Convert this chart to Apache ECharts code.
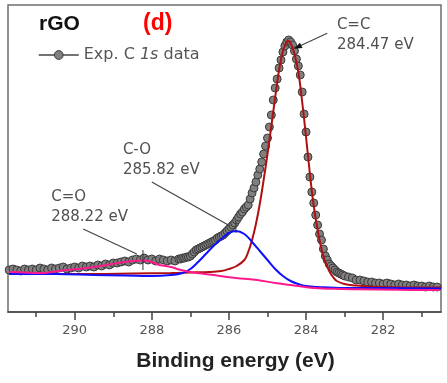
<!DOCTYPE html>
<html><head><meta charset="utf-8">
<script src="https://cdn.jsdelivr.net/npm/echarts@6/dist/echarts.min.js"></script>
<style>html,body{margin:0;padding:0;background:#fff}#c{width:447px;height:383px}</style>
</head><body><div id="c"></div>
<script>
// ---- data (binding energy eV, intensity a.u.) ----
const majorTicks = [282, 284, 286, 288, 290];
const minorTicks = [281, 283, 285, 287, 289, 291];

const expData = [
[291.7,42],[291.6,43],[291.5,42],[291.4,41],[291.3,43],[291.2,42],[291.1,43],[291.0,42],[290.9,44],[290.8,43],
[290.7,42],[290.6,44],[290.5,43],[290.4,44],[290.3,45],[290.2,43],[290.1,44],[290.0,45],[289.9,44],[289.8,46],
[289.7,45],[289.6,46],[289.5,45],[289.4,47],[289.3,46],[289.2,48],[289.1,47],[289.0,49],[288.9,49],[288.8,50],
[288.7,51],[288.6,50],[288.5,52],[288.4,53],[288.3,52],[288.2,54],[288.1,52],[288.0,53],[287.9,51],[287.8,53],
[287.7,52],[287.6,51],[287.5,52],[287.4,51],[287.3,53],
[287.25,53],[287.20,54],[287.15,54],[287.10,55],[287.05,55],[287.00,56],[286.95,58],[286.90,60],[286.85,62],[286.80,63],
[286.75,64],[286.70,65],[286.65,66],[286.60,67],[286.55,68],[286.50,69],[286.45,70],[286.40,71],[286.35,72],[286.30,74],
[286.25,75],[286.20,76],[286.15,77],[286.10,79],[286.05,81],[286.00,83],[285.95,85],[285.90,87],[285.85,89],[285.80,92],
[285.75,95],[285.70,98],[285.65,100],[285.60,103],[285.55,105],[285.50,107],[285.45,113],[285.40,119],[285.35,124],[285.30,130],
[285.25,137],[285.20,143],[285.15,150],[285.10,158],[285.05,166],[285.00,174],[284.95,185],[284.90,197],[284.85,212],[284.80,224],
[284.75,233],[284.70,244],[284.65,252],[284.60,260],[284.55,266],[284.50,270],[284.45,272],[284.40,270],[284.35,267],[284.30,261],
[284.25,253],[284.20,246],[284.15,237],[284.10,220],[284.05,198],[284.00,180],[283.95,155],[283.90,135],[283.85,120],[283.80,109],
[283.75,97],[283.70,87],[283.65,78],[283.60,72],[283.55,63],[283.50,56],[283.45,52],[283.40,48],[283.35,46],[283.30,44],
[283.25,42],[283.20,40],[283.15,39],[283.10,38],[283.05,37],[283.00,36],
[282.9,35],[282.8,34],[282.7,32],[282.6,32],[282.5,31],[282.4,30],[282.3,30],[282.2,29],[282.1,29],[282.0,28],
[281.9,29],[281.8,28],[281.7,27],[281.6,28],[281.5,27],[281.4,27],[281.3,26],[281.2,27],[281.1,26],[281.0,26],
[280.9,25],[280.8,26],[280.7,25],[280.6,25]
];

// C=C component (284.47 eV) on background
const fitCC = [
[291.7,38],[290.5,38],[289.5,38],[288.5,38.5],[287.5,39],[287.0,39.5],[286.5,40],[286.2,41],[286.0,43],[285.8,46],
[285.6,52],[285.5,60],[285.4,72],[285.3,88],[285.2,108],[285.1,132],[285.0,158],[284.9,186],[284.8,215],[284.7,242],
[284.6,261],[284.5,270],[284.45,271],[284.4,269],[284.3,258],[284.2,240],[284.1,210],[284.0,175],[283.9,138],[283.8,106],
[283.7,82],[283.6,63],[283.5,50],[283.4,41],[283.3,35],[283.2,31],[283.0,28],[282.7,26.5],[282.4,25.5],[282.0,25],
[281.0,24.5],[280.5,24.5]
];

// C-O component (285.82 eV) on background
const fitCO = [
[291.7,38],[290.5,38],[289.5,37],[288.7,36.5],[288.0,36],[287.5,37],[287.2,39],[287.0,43],[286.8,50],[286.6,58],
[286.4,66],[286.2,73],[286.0,79],[285.82,81],[285.6,78],[285.4,70],[285.2,61],[285.0,52],[284.8,43],[284.6,36],
[284.4,31],[284.2,28],[284.0,26],[283.7,25],[283.0,24],[282.0,24],[280.5,23.5]
];

// C=O component (288.22 eV) on background
const fitCdO = [
[291.7,40],[291.3,39.5],[290.9,39],[290.5,40.5],[290.2,42],[289.9,43],[289.5,45],[289.1,47.5],[288.8,49.5],[288.5,51],
[288.23,51.5],[288.0,50],[287.8,47],[287.5,45],[287.3,42.5],[287.0,40],[286.75,38.7],[286.4,37],[286.13,35.5],[285.7,33.5],
[285.27,32],[284.8,29],[284.4,27],[283.88,24.3],[283.3,23.2],[282.68,22.7],[281.6,22.2],[280.53,22]
];

const annotations = [
  {lines:['C=C','284.47 eV'], at:[283.20,277], from:[283.45,278.7], to:[284.29,263.7], arrow:true},
  {lines:['C-O','285.82 eV'], at:[288.75,152], from:[288.0,130], to:[285.97,86], tick:[285.82,79,91]},
  {lines:['C=O','288.22 eV'], at:[290.61,105], from:[289.78,83], to:[288.39,58], tick:[288.23,42,62]}
];

const X_MIN = 280.5, X_MAX = 291.73, Y_MIN = 0, Y_MAX = 307;

const chart = echarts.init(document.getElementById('c'), null, {renderer:'canvas'});
const tickStyle = {color:'#444', width:1.5};
const option = {
  animation:false,
  grid:{left:8, right:6, top:5, bottom:71, show:true, borderColor:'#6e6e6e', borderWidth:1.5, backgroundColor:'transparent'},
  xAxis:[
    {type:'value', inverse:true, min:X_MIN, max:X_MAX, position:'bottom',
     axisLine:{show:true, onZero:false, lineStyle:{color:'#444', width:1.5}},
     axisTick:{show:true, length:8, customValues:majorTicks, lineStyle:tickStyle},
     axisLabel:{show:true, customValues:majorTicks, margin:12, color:'#555', fontSize:13, fontFamily:'DejaVu Sans'},
     splitLine:{show:false},
     name:'Binding energy (eV)', nameLocation:'middle', nameGap:39,
     nameTextStyle:{fontFamily:'Liberation Sans', fontWeight:'bold', fontSize:21, color:'#222', padding:[0,0,0,22]}},
    {type:'value', inverse:true, min:X_MIN, max:X_MAX, position:'bottom',
     axisLine:{show:false}, axisTick:{show:true, length:5, customValues:minorTicks, lineStyle:tickStyle},
     axisLabel:{show:false}, splitLine:{show:false}}
  ],
  yAxis:{type:'value', min:Y_MIN, max:Y_MAX, axisLine:{show:false}, axisTick:{show:false}, axisLabel:{show:false}, splitLine:{show:false}},
  legend:{data:['Exp. C 1s data'], left:38, top:47, itemWidth:40, itemHeight:11, padding:0,
    formatter:() => 'Exp. C {i|1s} data',
    textStyle:{color:'#555', fontSize:16, fontFamily:'DejaVu Sans',
      rich:{i:{fontStyle:'italic', fontSize:16, fontFamily:'DejaVu Sans', color:'#555'}}},
    lineStyle:{color:'#444', width:1.5, opacity:1},
    itemStyle:{color:'#808080', borderColor:'#3a3a3a', borderWidth:1}},
  series:[
    {name:'Exp. C 1s data', type:'line', data:expData, symbol:'circle', symbolSize:8, showSymbol:true,
     lineStyle:{width:0, opacity:0}, itemStyle:{color:'#808080', borderColor:'#3a3a3a', borderWidth:1}, z:2},
    {name:'C=C', type:'line', data:fitCC, smooth:0.4, symbol:'none', lineStyle:{color:'#b01010', width:2}, z:3},
    {name:'C-O', type:'line', data:fitCO, smooth:0.4, symbol:'none', lineStyle:{color:'#1010ff', width:2}, z:4},
    {name:'C=O', type:'line', data:fitCdO, smooth:0.4, symbol:'none', lineStyle:{color:'#ff1a8c', width:2}, z:5}
  ]
};
chart.setOption(option);

const px = p => chart.convertToPixel({xAxisIndex:0, yAxisIndex:0}, p);
const graphics = [
  {type:'text', left:39, top:14, style:{text:'rGO', font:'bold 21px "Liberation Sans", Arial', fill:'#111'}},
  {type:'text', left:143, top:12, style:{text:'(d)', font:'bold 23px "Liberation Sans", Arial', fill:'#ff0000'}}
];
annotations.forEach(a => {
  const t = px(a.at), f = px(a.from), e = px(a.to);
  graphics.push({type:'text', x:t[0], y:t[1], style:{text:a.lines.join('\n'), font:'15px "DejaVu Sans"', fill:'#505050', lineHeight:20, verticalAlign:'middle', align:'left'}, z:10});
  graphics.push({type:'line', shape:{x1:f[0], y1:f[1], x2:e[0], y2:e[1]}, style:{stroke:'#444', lineWidth:1.2}, z:10});
  if (a.arrow) {
    const dx = e[0]-f[0], dy = e[1]-f[1], L = Math.hypot(dx,dy), ux = dx/L, uy = dy/L;
    const bx = e[0]-ux*7, by = e[1]-uy*7;
    graphics.push({type:'polygon', shape:{points:[[e[0]+ux*1,e[1]+uy*1],[bx-uy*3,by+ux*3],[bx+uy*3,by-ux*3]]}, style:{fill:'#111'}, z:10});
  }
  if (a.tick) {
    const p1 = px([a.tick[0], a.tick[1]]), p2 = px([a.tick[0], a.tick[2]]);
    graphics.push({type:'line', shape:{x1:p1[0], y1:p1[1], x2:p2[0], y2:p2[1]}, style:{stroke:'#333', lineWidth:1}, z:10});
  }
});
chart.setOption({graphic:graphics});
</script></body></html>
